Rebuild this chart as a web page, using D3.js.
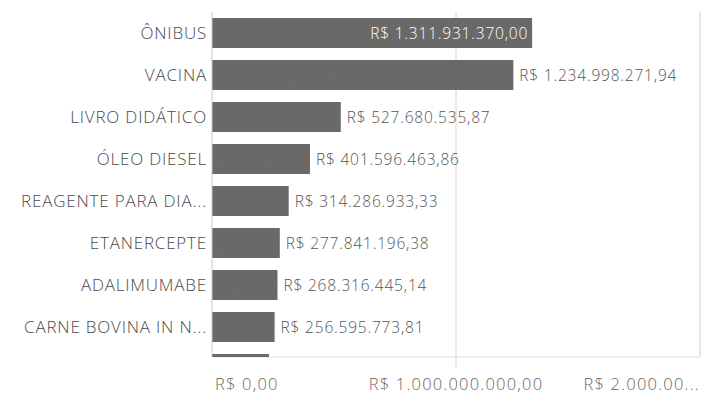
<!DOCTYPE html>
<html lang="pt-BR">
<head>
    <meta charset="UTF-8">
    <title>Top itens por valor</title>
    <script src="https://d3js.org/d3.v7.min.js"></script>
    <style>
        body { margin: 0; background: #fff; font-family: "Open Sans", sans-serif; }
        .cat { font-size: 17px; font-weight: 300; fill: #4a4a4a; letter-spacing: 0.8px; }
        .val { font-size: 15.5px; font-weight: 300; fill: #555; letter-spacing: 0.8px; }
        .tick-label { font-size: 16.5px; font-weight: 300; fill: #666; letter-spacing: 1.2px; }
    </style>
</head>
<body>
    <svg id="chart" width="707" height="404"></svg>

    <script>
        // categorias (a nona linha aparece cortada na rolagem)
        const categories = ["ÔNIBUS", "VACINA", "LIVRO DIDÁTICO", "ÓLEO DIESEL", "REAGENTE PARA DIA...",
            "ETANERCEPTE", "ADALIMUMABE", "CARNE BOVINA IN N...", ""];
        const values = [1311931370.00, 1234998271.94, 527680535.87, 401596463.86, 314286933.33,
            277841196.38, 268316445.14, 256595773.81, 233500000.00];
        const tickValues = [0, 1000000000, 2000000000];
        const tickLabels = ["R$ 0,00", "R$ 1.000.000.000,00", "R$ 2.000.00..."];

        const brl = d3.formatLocale({
            decimal: ",", thousands: ".", grouping: [3], currency: ["R$ ", ""]
        }).format("$,.2f");

        const svg = d3.select("#chart");
        const plot = { left: 212, right: 700, top: 12, bottom: 357 };

        const x = d3.scaleLinear().domain([0, 2000000000]).range([plot.left, plot.right]);
        const y = d3.scaleBand().domain(d3.range(categories.length))
            .range([plot.top, plot.top + 42 * categories.length])
            .paddingInner(12 / 42).paddingOuter(6 / 42);

        // só as linhas cujo centro cabe na área visível recebem texto
        const visible = i => y(i) + y.bandwidth() / 2 < plot.bottom;
        const idx = d3.range(categories.length).filter(visible);

        const defs = svg.append("defs");
        defs.append("clipPath").attr("id", "clip")
            .append("rect").attr("x", 0).attr("y", plot.top)
            .attr("width", 707).attr("height", plot.bottom - plot.top);

        // grão de papel escaneado nas barras
        const grain = defs.append("filter").attr("id", "grain");
        grain.append("feTurbulence").attr("type", "fractalNoise")
            .attr("baseFrequency", 0.8).attr("numOctaves", 2).attr("result", "noise");
        grain.append("feColorMatrix").attr("in", "noise").attr("type", "matrix")
            .attr("values", "0 0 0 0 0.5  0 0 0 0 0.5  0 0 0 0 0.5  0 0 0 0.5 0")
            .attr("result", "gray");
        grain.append("feComposite").attr("in", "gray").attr("in2", "SourceGraphic")
            .attr("operator", "in").attr("result", "g2");
        grain.append("feBlend").attr("in", "SourceGraphic").attr("in2", "g2").attr("mode", "multiply");

        // linhas de grade e bordas
        const lines = svg.append("g").attr("fill", "none");
        lines.append("line")
            .attr("x1", x(1000000000)).attr("x2", x(1000000000))
            .attr("y1", plot.top).attr("y2", plot.bottom + 11)
            .attr("stroke", "#d4d4d4");
        lines.append("line")
            .attr("x1", plot.right).attr("x2", plot.right)
            .attr("y1", plot.top).attr("y2", plot.bottom)
            .attr("stroke", "#cfcfcf");
        lines.append("line")
            .attr("x1", plot.left).attr("x2", plot.right)
            .attr("y1", plot.bottom).attr("y2", plot.bottom)
            .attr("stroke", "#dcdcdc");

        const rows = svg.append("g").attr("clip-path", "url(#clip)");

        rows.selectAll("rect")
            .data(values)
            .join("rect")
            .attr("x", x(0))
            .attr("y", (d, i) => y(i))
            .attr("width", d => x(d) - x(0))
            .attr("height", y.bandwidth())
            .attr("fill", "#707070")
            .attr("filter", "url(#grain)");

        rows.selectAll("text.cat")
            .data(idx)
            .join("text")
            .attr("class", "cat")
            .attr("x", plot.left - 5)
            .attr("y", i => y(i) + y.bandwidth() / 2)
            .attr("dy", "0.36em")
            .attr("text-anchor", "end")
            .text(i => categories[i]);

        // rótulo dentro da barra quando não cabe fora
        rows.selectAll("text.val")
            .data(idx)
            .join("text")
            .attr("class", "val")
            .each(function (i) {
                const d = values[i];
                const inside = x(d) > 520;
                d3.select(this)
                    .attr("x", inside ? x(d) - 4 : x(d) + 6)
                    .attr("y", y(i) + y.bandwidth() / 2)
                    .attr("dy", "0.36em")
                    .attr("text-anchor", inside ? "end" : "start")
                    .style("fill", inside ? "#fff" : null)
                    .text(brl(d));
            });

        // eixo vertical
        svg.append("line")
            .attr("x1", plot.left).attr("x2", plot.left)
            .attr("y1", plot.top).attr("y2", plot.bottom)
            .attr("stroke", "#c8c8c8");

        // rótulos do eixo x (primeiro à esquerda, último à direita)
        svg.append("g").selectAll("text")
            .data(tickValues)
            .join("text")
            .attr("class", "tick-label")
            .attr("x", (d, i) => i === 0 ? x(d) + 3 : x(d))
            .attr("y", 384)
            .attr("dy", "0.36em")
            .attr("text-anchor", (d, i) => i === 0 ? "start" : (i === tickValues.length - 1 ? "end" : "middle"))
            .text((d, i) => tickLabels[i]);
    </script>
</body>
</html>
